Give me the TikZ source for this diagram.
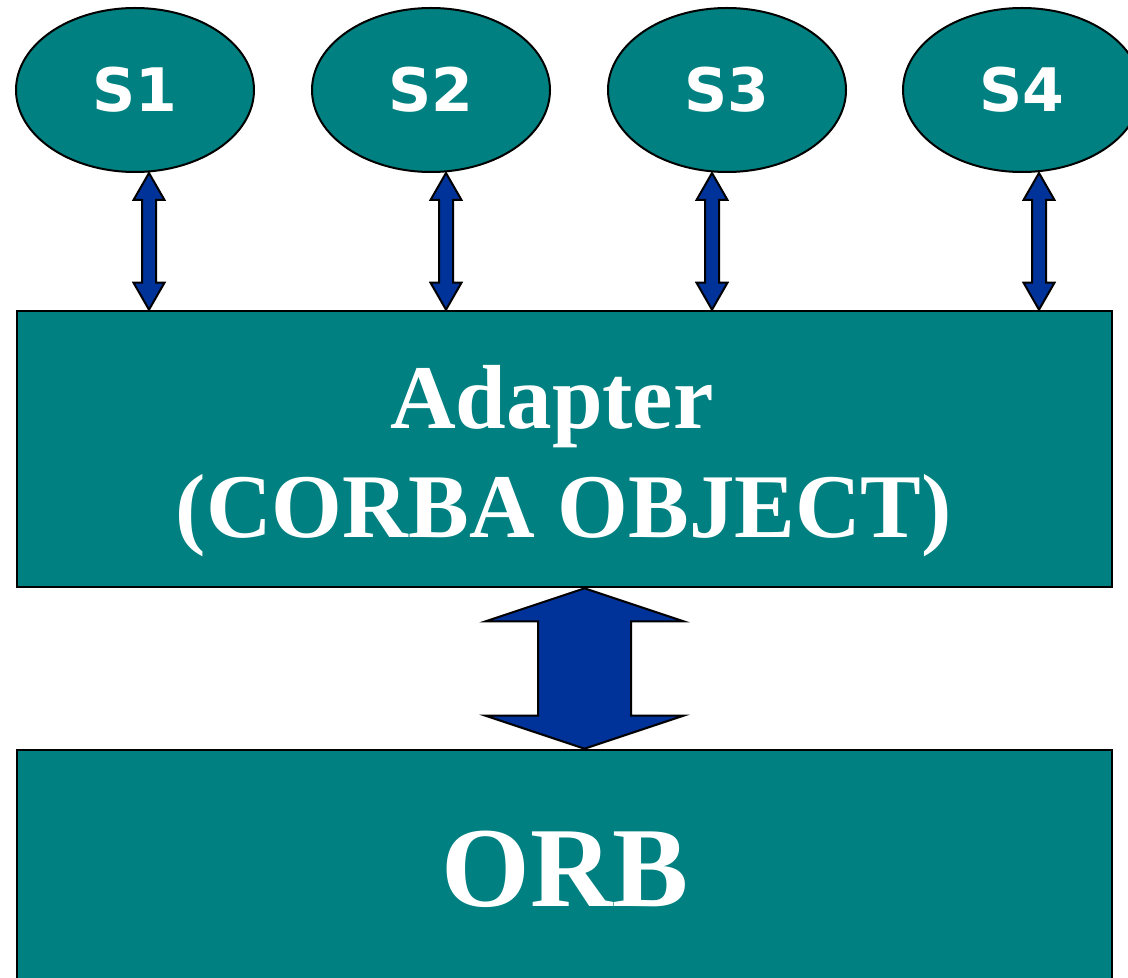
\documentclass[tikz,border=0pt]{standalone}
\usepackage{fontspec}
\setmainfont{Liberation Serif}
\newfontfamily\labelfont{DejaVu Sans}
\usetikzlibrary{calc,shapes.geometric}

\definecolor{corbateal}{RGB}{0,128,128}
\definecolor{arrowblue}{RGB}{0,51,153}

\tikzset{
  server/.style={ellipse,draw,line width=1pt,fill=corbateal,text=white,
    minimum width=119pt,minimum height=82pt,inner sep=0pt,
    font=\labelfont\bfseries\fontsize{30}{30}\selectfont},
  layer/.style={rectangle,draw,line width=1.3pt,fill=corbateal,
    minimum width=547.5pt,inner sep=0pt},
  layertext/.style={text=white,align=center,inner sep=0pt},
  arrowfill/.style={draw,line width=1pt,fill=arrowblue,line join=miter}
}

% two-way block arrow: top, bottom, half shaft, half head, head length
\newcommand{\twoway}[5]{%
  \draw[arrowfill] let \p1=(#1), \p2=(#2) in
    (\x1,\y1) -- (\x1+#4,\y1-#5) -- (\x1+#3,\y1-#5) -- (\x1+#3,\y2+#5)
    -- (\x1+#4,\y2+#5) -- (\x1,\y2) -- (\x1-#4,\y2+#5) -- (\x1-#3,\y2+#5)
    -- (\x1-#3,\y1-#5) -- (\x1-#4,\y1-#5) -- cycle;}

\begin{document}
\begin{tikzpicture}[x=0.5pt,y=-0.5pt]
\useasboundingbox (0,0) rectangle (1128,978);
\clip (0,0) rectangle (1128,978);

%servers:
\node (s1) at (135,90) [server] {S1};
\node (s2) at (431,90) [server] {S2};
\node (s3) at (727,90) [server] {S3};
\node (s4) at (1022,90) [server] {S4};

%layers:
\node (adapter) at (564.5,449) [layer,minimum height=138pt] {};
\node (adaptertext) at (564,461) [layertext,
  font=\bfseries\fontsize{45.5}{54.6}\selectfont]
  {Adapter\hspace*{12pt}\\(CORBA OBJECT)};
\node (orb) at (564.5,900) [layer,minimum height=150pt] {};
\node (orbtext) at (565,869) [layertext,
  font=\bfseries\fontsize{57}{60}\selectfont] {ORB};

%arrows:
\foreach \i/\dx in {1/7pt,2/7.5pt,3/-7.5pt,4/8.5pt}{
  \coordinate (top\i) at ([xshift=\dx]s\i.south);
  \coordinate (bot\i) at (adapter.north -| top\i);
  \twoway{top\i}{bot\i}{3.5pt}{7.75pt}{13.5pt}
}
\coordinate (bigtop) at ([xshift=10pt]adapter.south);
\coordinate (bigbot) at (orb.north -| bigtop);
\twoway{bigtop}{bigbot}{23.25pt}{49.5pt}{16.5pt}
\end{tikzpicture}
\end{document}
